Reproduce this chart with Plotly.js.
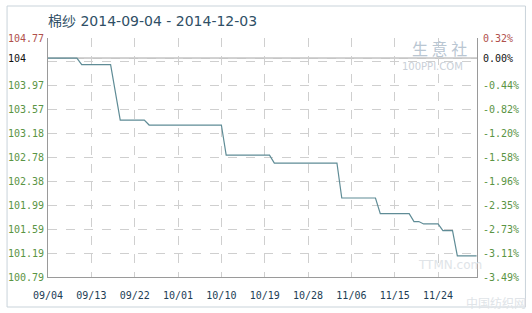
<!DOCTYPE html>
<html>
<head>
<meta charset="utf-8">
<script src="https://cdn.plot.ly/plotly-3.0.1.min.js"></script>
<style>html,body{margin:0;padding:0;background:#fff;}#chart{width:532px;height:313px;}</style>
</head>
<body>
<div id="chart"></div>
<script>
// ---- data ----
const dates = ['2014-09-04','2014-09-10','2014-09-11','2014-09-17','2014-09-19','2014-09-24','2014-09-25',
  '2014-10-10','2014-10-11','2014-10-20','2014-10-21','2014-11-03','2014-11-04','2014-11-11','2014-11-12',
  '2014-11-18','2014-11-19','2014-11-20','2014-11-21','2014-11-24','2014-11-25','2014-11-27','2014-11-28','2014-12-02'];
const prices = [104.00,104.00,103.89,103.89,102.97,102.97,102.89,
  102.89,102.39,102.39,102.26,102.26,101.68,101.68,101.42,
  101.42,101.29,101.29,101.25,101.25,101.14,101.14,100.72,100.72];

const baseValue = 104;
const baseLabel = '104';
const basePctLabel = '0.00%';
const leftLabels = ['100.79','101.19','101.59','101.99','102.38','102.78','103.18','103.57','103.97','','104.77'];
const rightLabels = ['-3.49%','-3.11%','-2.73%','-2.35%','-1.96%','-1.58%','-1.20%','-0.82%','-0.44%','','0.32%'];
const pctMin = -3.49, pctMax = 0.32;
const xTickDates = ['2014-09-04','2014-09-13','2014-09-22','2014-10-01','2014-10-10','2014-10-19','2014-10-28','2014-11-06','2014-11-15','2014-11-24'];
const xTickLabels = ['09/04','09/13','09/22','10/01','10/10','10/19','10/28','11/06','11/15','11/24'];
const titleText = '棉纱 2014-09-04 - 2014-12-03';

// ---- derived axis positions ----
const yMin = baseValue * (1 + pctMin / 100);
const yMax = baseValue * (1 + pctMax / 100);
const n = leftLabels.length - 1;
const gridVals = leftLabels.map((_, k) => yMin + k * (yMax - yMin) / n);
const gridPct = rightLabels.map((_, k) => pctMin + k * (pctMax - pctMin) / n);

const RED = '#b0504c', GREEN = '#5a9444', BLACK = '#111111';
function colorize(arr) {
  return arr.map((t, k) => {
    if (t === '') return '';
    if (k === arr.length - 1) return '<span style="color:' + RED + '">' + t + '</span>';
    return t;
  });
}

// base label sits left-aligned in the reference: pad with non-breaking spaces
const leftText = colorize(leftLabels).concat(['<span style="color:' + BLACK + '">' + baseLabel + '\u00a0\u00a0\u00a0</span>']);
const rightText = colorize(rightLabels).concat(['<span style="color:' + BLACK + '">' + basePctLabel + '</span>']);

const trace = {
  x: dates, y: prices, type: 'scatter', mode: 'lines',
  line: {color: '#5f8c96', width: 1.2, shape: 'linear'},
  hoverinfo: 'skip', showlegend: false
};
// invisible trace to activate y2
const trace2 = {x: [dates[0]], y: [0], yaxis: 'y2', type: 'scatter', mode: 'markers',
  marker: {opacity: 0}, hoverinfo: 'skip', showlegend: false};

const tickFont = {family: 'DejaVu Sans Mono, monospace', size: 10, color: GREEN};
const layout = {
  width: 532, height: 313,
  margin: {l: 48, r: 55, t: 38, b: 36, pad: 0},
  paper_bgcolor: '#ffffff', plot_bgcolor: '#ffffff',
  title: {text: titleText, x: 48 / 532, xanchor: 'left', xref: 'container',
    y: 1 - 21 / 313, yanchor: 'middle', yref: 'container',
    font: {family: 'DejaVu Sans, Noto Sans CJK SC, sans-serif', size: 14, color: '#2f4f66'}},
  xaxis: {
    type: 'date', range: ['2014-09-04', '2014-12-02 02:00'],
    tickmode: 'array', tickvals: xTickDates, ticktext: xTickLabels,
    showgrid: true, gridcolor: '#cfcfcf', griddash: 'dash', gridwidth: 1,
    showline: true, linecolor: '#9a9a9a', linewidth: 1, zeroline: false,
    ticks: '', ticklabelstandoff: 9,
    tickfont: {family: 'DejaVu Sans Mono, monospace', size: 10, color: '#213d55'}
  },
  yaxis: {
    range: [yMin, yMax], tickmode: 'array',
    tickvals: gridVals.concat([baseValue]), ticktext: leftText,
    showgrid: true, gridcolor: '#cfcfcf', griddash: 'dash', gridwidth: 1,
    showline: true, linecolor: '#9a9a9a', linewidth: 1, zeroline: false,
    ticks: '', ticklabelstandoff: 1, tickfont: tickFont
  },
  yaxis2: {
    overlaying: 'y', side: 'right', anchor: 'x',
    range: [pctMin, pctMax], tickmode: 'array',
    tickvals: gridPct.concat([0]), ticktext: rightText,
    showgrid: false, showline: true, linecolor: '#9a9a9a', linewidth: 1, zeroline: false,
    ticks: '', ticklabelstandoff: 3, tickfont: tickFont
  },
  shapes: [
    {type: 'line', xref: 'paper', x0: 0, x1: 1, yref: 'y', y0: baseValue, y1: baseValue,
      line: {color: '#9a9a9a', width: 1}, layer: 'below'},
    {type: 'rect', xref: 'paper', yref: 'paper', x0: -41 / 429.5, x1: 478 / 429.5,
      y0: -30 / 239, y1: 271 / 239, line: {color: '#c9d3da', width: 1}, fillcolor: 'rgba(0,0,0,0)', layer: 'below'}
  ],
  annotations: [
    {text: '生 意 社', xref: 'paper', yref: 'paper', x: 392 / 429.5, y: (277 - 48) / 239,
      showarrow: false, xanchor: 'center', yanchor: 'middle',
      font: {family: 'Noto Sans CJK SC, sans-serif', size: 16, color: '#b9c6d2'}},
    {text: '100PPI.COM', xref: 'paper', yref: 'paper', x: 385 / 429.5, y: (277 - 66) / 239,
      showarrow: false, xanchor: 'center', yanchor: 'middle',
      font: {family: 'DejaVu Sans, sans-serif', size: 10, color: '#c9d0d8'}},
    {text: 'TTMN.com', xref: 'paper', yref: 'paper', x: 402 / 429.5, y: (277 - 265) / 239,
      showarrow: false, xanchor: 'center', yanchor: 'middle',
      font: {family: 'DejaVu Sans, sans-serif', size: 12, color: '#e0e4e8'}},
    {text: '中国纺织网', xref: 'paper', yref: 'paper', x: 449 / 429.5, y: (277 - 302) / 239,
      showarrow: false, xanchor: 'center', yanchor: 'middle',
      font: {family: 'Noto Sans CJK SC, sans-serif', size: 12, color: '#e0e4e8'}}
  ]
};

Plotly.newPlot('chart', [trace, trace2], layout, {staticPlot: true, displayModeBar: false});
</script>
</body>
</html>
